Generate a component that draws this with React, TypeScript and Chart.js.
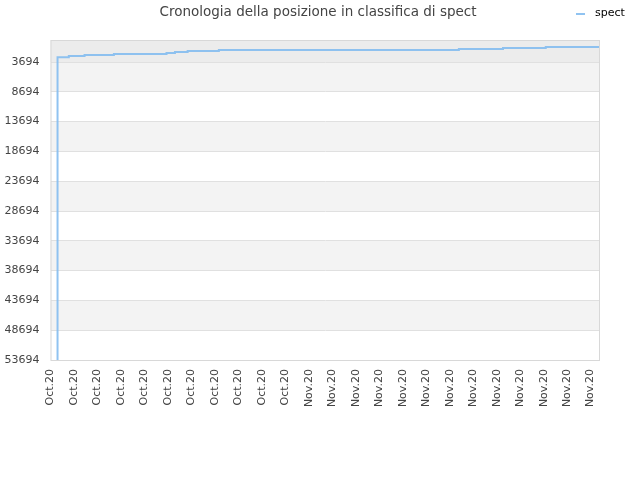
import { useEffect, useRef } from "react";
import { Chart, registerables } from "chart.js";

Chart.register(...registerables);

// positions along the x axis (tick index units) where the rank changes
const stepPositions = [0.28, 0.3, 0.78, 1.45, 2.7, 4.94, 5.3, 5.84, 7.17, 17.39, 19.27, 21.09, 23.4];
const rankValues = [53694, 2900, 2681, 2512, 2343, 2174, 2005, 1836, 1667, 1498, 1329, 1160, 1160];

const xTickLabels = [
  "Oct.20", "Oct.20", "Oct.20", "Oct.20", "Oct.20", "Oct.20", "Oct.20", "Oct.20", "Oct.20", "Oct.20", "Oct.20",
  "Nov.20", "Nov.20", "Nov.20", "Nov.20", "Nov.20", "Nov.20", "Nov.20", "Nov.20", "Nov.20", "Nov.20", "Nov.20",
  "Nov.20", "Nov.20",
];
const yTickValues = [3694, 8694, 13694, 18694, 23694, 28694, 33694, 38694, 43694, 48694, 53694];

const TITLE = "Cronologia della posizione in classifica di spect";
const SERIES = "spect";
const LINE_COLOR = "rgba(132, 188, 240, 0.9)";
const FONT = "'DejaVu Sans', sans-serif";

const bandsPlugin = {
  id: "bands",
  beforeDraw(chart: any) {
    const { ctx, chartArea, scales } = chart;
    const y = scales.y;
    ctx.save();
    // top band above first tick
    ctx.fillStyle = "#ececec";
    const firstPx = y.getPixelForValue(yTickValues[0]);
    ctx.fillRect(chartArea.left, chartArea.top, chartArea.right - chartArea.left, firstPx - chartArea.top);
    ctx.fillStyle = "#f3f3f3";
    for (let i = 0; i < yTickValues.length - 1; i += 2) {
      const a = y.getPixelForValue(yTickValues[i]);
      const b = y.getPixelForValue(yTickValues[i + 1]);
      ctx.fillRect(chartArea.left, a, chartArea.right - chartArea.left, b - a);
    }
    ctx.restore();
  },
  afterDraw(chart: any) {
    const { ctx, chartArea } = chart;
    ctx.save();
    ctx.strokeStyle = "#d8d8d8";
    ctx.lineWidth = 1;
    ctx.strokeRect(chartArea.left + 0.5, chartArea.top + 0.5, chartArea.right - chartArea.left - 1, chartArea.bottom - chartArea.top);
    // title
    ctx.fillStyle = "#444";
    ctx.font = `13.5px ${FONT}`;
    ctx.textAlign = "center";
    ctx.textBaseline = "middle";
    ctx.fillText(TITLE, 318, 12);
    // legend
    ctx.strokeStyle = LINE_COLOR;
    ctx.lineWidth = 2;
    ctx.beginPath();
    ctx.moveTo(576, 14);
    ctx.lineTo(585, 14);
    ctx.stroke();
    ctx.fillStyle = "#000";
    ctx.font = `11px ${FONT}`;
    ctx.textAlign = "left";
    ctx.fillText(SERIES, 595, 13);
    ctx.restore();
  },
};

export default function App() {
  const canvasRef = useRef<HTMLCanvasElement>(null);
  const chartRef = useRef<Chart | null>(null);

  useEffect(() => {
    if (!canvasRef.current) return;
    if (chartRef.current) chartRef.current.destroy();

    const points = stepPositions.map((x, i) => ({ x, y: rankValues[i] }));

    chartRef.current = new Chart(canvasRef.current, {
      type: "line",
      data: {
        datasets: [
          {
            label: SERIES,
            data: points,
            borderColor: LINE_COLOR,
            borderWidth: 2,
            pointRadius: 0,
            stepped: true,
            fill: false,
          },
        ],
      },
      options: {
        animation: false,
        responsive: true,
        maintainAspectRatio: false,
        layout: { padding: { top: 40, right: 40, left: 0, bottom: 0 } },
        plugins: {
          legend: { display: false },
          title: { display: false },
          tooltip: { enabled: false },
        },
        scales: {
          x: {
            type: "linear",
            min: 0,
            max: 23.4,
            afterBuildTicks: (scale: any) => {
              scale.ticks = xTickLabels.map((_, i) => ({ value: i }));
            },
            afterFit: (scale: any) => {
              scale.height = 120;
            },
            grid: { display: false, drawTicks: false },
            border: { display: false },
            ticks: {
              autoSkip: false,
              maxRotation: 90,
              minRotation: 90,
              padding: 9,
              color: "#444",
              font: { family: FONT, size: 11 },
              callback: (v: any) => xTickLabels[Math.round(Number(v))] ?? "",
            },
          },
          y: {
            reverse: true,
            min: 0,
            max: 53694,
            afterBuildTicks: (scale: any) => {
              scale.ticks = yTickValues.map((v) => ({ value: v }));
            },
            afterFit: (scale: any) => {
              scale.width = 50.5;
            },
            grid: { color: "#e0e0e0", drawTicks: false },
            border: { display: false },
            ticks: {
              padding: 11,
              color: "#444",
              font: { family: FONT, size: 11 },
              callback: (v: any) => String(v),
            },
          },
        },
      },
      plugins: [bandsPlugin],
    });

    return () => {
      if (chartRef.current) {
        chartRef.current.destroy();
        chartRef.current = null;
      }
    };
  }, []);

  return (
    <div style={{ position: "absolute", left: 0, top: 0, width: 640, height: 480, background: "#fff" }}>
      <canvas ref={canvasRef} />
    </div>
  );
}
